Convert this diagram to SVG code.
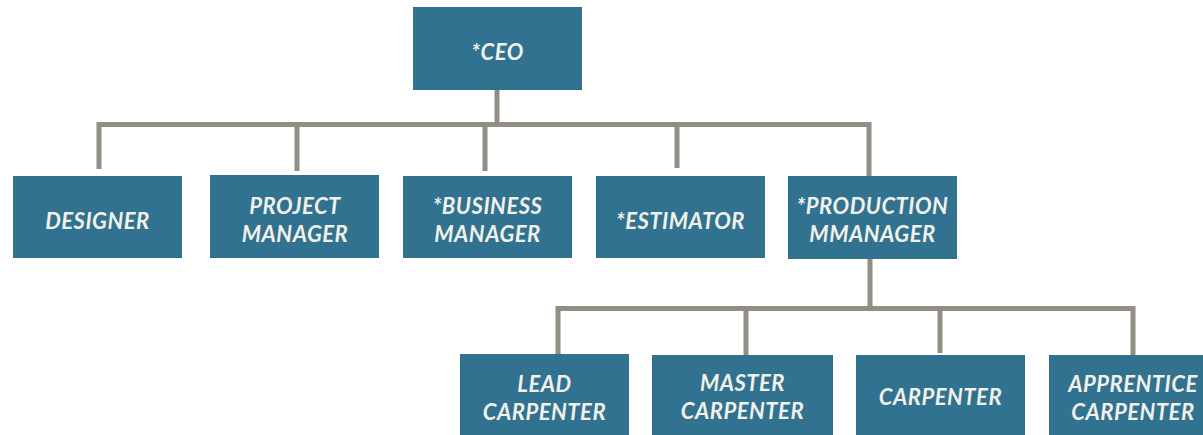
<svg xmlns="http://www.w3.org/2000/svg" width="1203" height="435" viewBox="0 0 1203 435">
<style>
.box{fill:#30728f}
.t{font-family:Lato,"Open Sans",sans-serif;font-weight:bold;font-style:italic;font-size:22px;fill:#f2f0ea;text-anchor:middle;letter-spacing:0.5px}
.c{fill:none;stroke:#928d85;stroke-width:5;stroke-linecap:butt;stroke-linejoin:miter}
</style>
<rect width="1203" height="435" fill="#ffffff"/>
<g id="connectors">
<path class="c" d="M497 90 V124.5 M99 169 V124.5 H869 V176 M297 171 V124.5 M485 171 V124.5 M677 168 V124.5"/>
<path class="c" d="M870 259 V308.5 M558 354 V308.5 H1133 V355 M746 355 V308.5 M940 353 V308.5"/>
</g>
<g id="ceo"><rect class="box" x="413" y="7" width="169" height="83"/><text class="t" x="497.5" y="60">*CEO</text></g>
<g id="designer"><rect class="box" x="13" y="176" width="169" height="82"/><text class="t" x="97.5" y="229">DESIGNER</text></g>
<g id="project-manager"><rect class="box" x="210" y="175" width="169" height="83"/><text class="t" x="295" y="214">PROJECT</text><text class="t" x="295" y="242">MANAGER</text></g>
<g id="business-manager"><rect class="box" x="403" y="176" width="169" height="82"/><text class="t" x="487.5" y="214">*BUSINESS</text><text class="t" x="487.5" y="242">MANAGER</text></g>
<g id="estimator"><rect class="box" x="596" y="176" width="169" height="82"/><text class="t" x="680.5" y="229">*ESTIMATOR</text></g>
<g id="production-manager"><rect class="box" x="788" y="176" width="169" height="83"/><text class="t" x="872.5" y="214">*PRODUCTION</text><text class="t" x="872.5" y="242">MMANAGER</text></g>
<g id="lead-carpenter"><rect class="box" x="460" y="354" width="169" height="83"/><text class="t" x="544.5" y="392">LEAD</text><text class="t" x="544.5" y="420">CARPENTER</text></g>
<g id="master-carpenter"><rect class="box" x="652" y="355" width="181" height="82"/><text class="t" x="742.5" y="391">MASTER</text><text class="t" x="742.5" y="419">CARPENTER</text></g>
<g id="carpenter"><rect class="box" x="856" y="355" width="169" height="82"/><text class="t" x="940.5" y="405">CARPENTER</text></g>
<g id="apprentice-carpenter"><rect class="box" x="1049" y="355" width="169" height="82"/><text class="t" x="1133" y="392">APPRENTICE</text><text class="t" x="1133" y="420">CARPENTER</text></g>
</svg>
